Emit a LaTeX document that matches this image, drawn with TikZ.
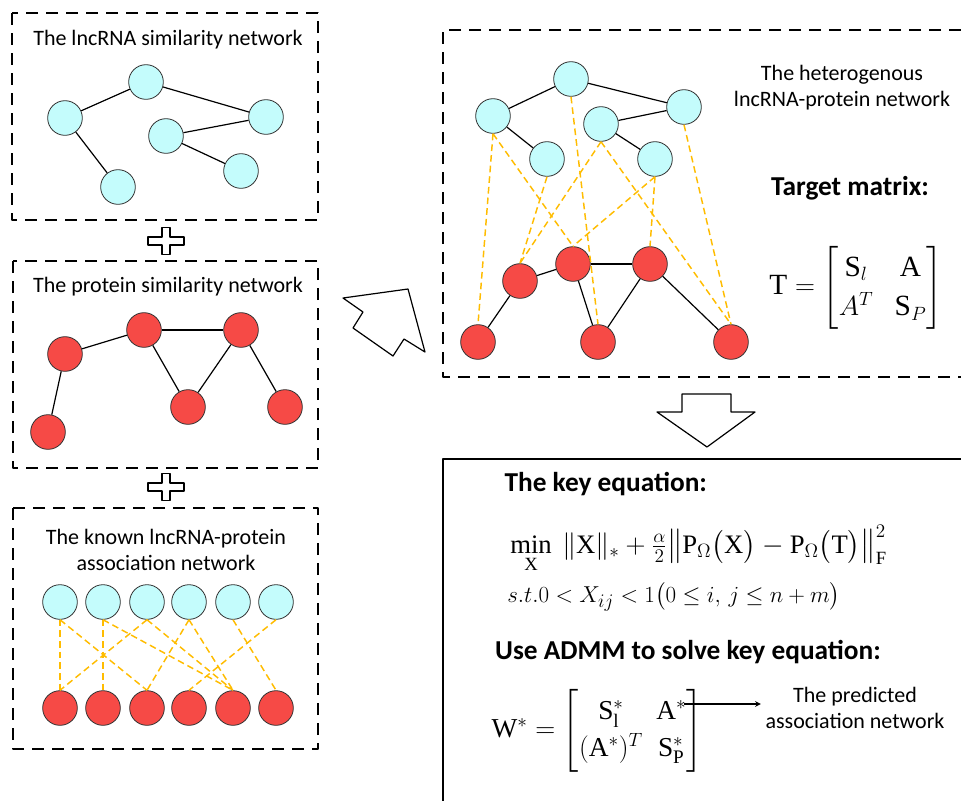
\documentclass[tikz,border=0pt]{standalone}
\usepackage{amsmath}
\usepackage{fontspec}
\setmainfont{Carlito}
\setmathrm{Liberation Serif}
\definecolor{lnccol}{RGB}{196,252,252}
\definecolor{protcol}{RGB}{246,74,70}
\definecolor{assoccol}{RGB}{255,188,0}
\newcommand{\matsetup}[1]{\setlength{\arraycolsep}{#1}\def\arraystretch{1.15}}
\begin{document}
\begin{tikzpicture}[x=0.75pt,y=-0.75pt,>=stealth,line join=round,
	font=\fontsize{16.5}{19.5}\selectfont,
	lnode/.style={circle,draw=black!80,fill=lnccol,minimum size=26pt,inner sep=0pt,line width=0.6pt},
	pnode/.style={lnode,fill=protcol},
	link/.style={line width=0.9pt},
	assoc/.style={draw=assoccol,line width=1.1pt,dash pattern=on 5pt off 3pt},
	dashbox/.style={line width=1.4pt,dash pattern=on 9pt off 6pt},
	hollow/.style={draw,line width=0.9pt,fill=white},
	bold/.style={font=\fontsize{20.5}{24}\selectfont\bfseries,inner sep=1pt},
	eqn/.style={font=\fontsize{20}{24}\selectfont,inner sep=0pt},
	mat/.style={font=\fontsize{22}{26}\selectfont,inner sep=0pt},
	plussign/.pic={\draw[hollow] (-4,-13.5)--(4,-13.5)--(4,-4)--(18,-4)--(18,4)--(4,4)--(4,13.5)--(-4,13.5)--(-4,4)--(-18,4)--(-18,-4)--(-4,-4)--cycle;}]
	\useasboundingbox (0,0) rectangle (961,801);
	\draw[dashbox] (12,13) rectangle (318,220);
	\draw[dashbox] (13,261) rectangle (318,468);
	\draw[dashbox] (13,508) rectangle (318,749);
	\draw[dashbox] (961,30)--(443,30)--(443,377)--(961,377);
	\draw[line width=1.2pt] (961,459)--(443,459)--(443,801);
	\pic at (166,241) {plussign};
	\pic at (166,487) {plussign};
	\draw[hollow] (343,298)--(408,289)--(425,352)--(404,339)--(393,356)--(353,328)--(363,312)--cycle;
	\draw[hollow] (682,394)--(731,394)--(731,412)--(755,412)--(707,447)--(657,412)--(682,412)--cycle;
	\node (ltitle) at (168,40) {The lncRNA similarity network};
	\node (ptitle) at (168,287) {The protein similarity network};
	\node[align=center] (atitle) at (166,550) {The known lncRNA-protein\\association network};
	\node[align=center] (htitle) at (842,88) {The heterogenous\\lncRNA-protein network};
	\foreach \n/\x/\y in {l1/65/118,l2/146/82,l3/266/117,l4/166/136,l5/241/171,l6/118/187}
	\node[lnode] (\n) at (\x,\y) {};
	\foreach \a/\b in {l1/l2,l2/l3,l1/l6,l4/l3,l4/l5}
	\draw[link] (\a)--(\b);
	\foreach \n/\x/\y in {p1/65/354,p2/144/330,p3/241/330,p4/188/407,p5/285/407,p6/48/432}
	\node[pnode] (\n) at (\x,\y) {};
	\foreach \a/\b in {p1/p2,p2/p3,p2/p4,p4/p3,p3/p5,p1/p6}
	\draw[link] (\a)--(\b);
	\foreach \i/\x in {1/60,2/103,3/147,4/189,5/233,6/276}{
		\node[lnode] (a\i) at (\x,602) {};
		\node[pnode] (b\i) at (\x,708) {};
	}
	\foreach \i/\j in {1/1,1/3,2/2,2/5,3/1,3/5,4/3,4/5,5/6,6/4}
	\draw[assoc] (a\i.south)--(b\j.north);
	\foreach \n/\x/\y in {h1/493/116,h2/571/79,h3/684/107,h4/601/124,h5/547/159,h6/655/159}
	\node[lnode] (\n) at (\x,\y) {};
	\foreach \n/\x/\y in {q1/520/281,q2/573/264,q3/650/264,q4/478/342,q5/598/342,q6/731/342}
	\node[pnode] (\n) at (\x,\y) {};
	\foreach \a/\b in {h1/h2,h2/h3,h4/h3,h1/h5,h4/h6,q1/q2,q2/q3,q1/q4,q2/q5,q3/q5,q3/q6}
	\draw[link] (\a)--(\b);
	\foreach \a/\b in {h1/q4,h1/q2,h2/q5,h5/q1,h4/q1,h6/q2,h6/q3,h4/q6,h3/q6}
	\draw[assoc] (\a.south)--(\b.north);
	\node[bold] (target) at (850,188) {Target matrix:};
	\node[mat] (tmat) at (856,288) {\matsetup{8pt}$\mathrm{T}=\begin{bmatrix}\mathrm{S}_l & \mathrm{A}\\ A^T & \mathrm{S}_P\end{bmatrix}$};
	\node[bold,anchor=west] (keyeq) at (503,484) {The key equation:};
	\node[eqn,anchor=west] (mineq) at (510,549) {$\min\limits_{\mathrm{X}}\ \|\mathrm{X}\|_*+\frac{\alpha}{2}\bigl\|\mathrm{P}_\Omega\bigl(\mathrm{X}\bigr)-\mathrm{P}_\Omega\bigl(\mathrm{T}\bigr)\bigr\|_{\mathrm{F}}^2$};
	\node[eqn,anchor=west,font=\fontsize{19}{22}\selectfont] (steq) at (507,597) {$s.t.0<X_{ij}<1\bigl(0\le i,\,j\le n+m\bigr)$};
	\node[bold] (admm) at (688,652) {Use ADMM to solve key equation:};
	\node[mat,font=\fontsize{20.5}{24}\selectfont] (wmat) at (597,731) {\matsetup{5pt}$\mathrm{W}^*=\begin{bmatrix}\mathrm{S}_{\mathrm{l}}^* & \mathrm{A}^*\\ (\mathrm{A}^*)^T & \mathrm{S}_{\mathrm{P}}^*\end{bmatrix}$};
	\coordinate (astar) at (684,704);
	\node[align=center] (pred) at (855,708) {The predicted\\association network};
	\draw[->,line width=0.9pt] (astar)--(astar-|pred.west);
\end{tikzpicture}
\end{document}
